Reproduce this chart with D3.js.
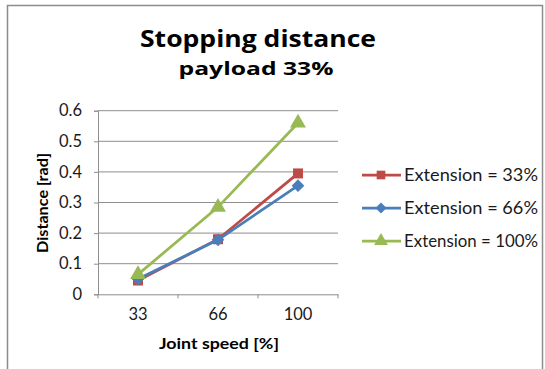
<!DOCTYPE html>
<html>
<head>
<meta charset="utf-8">
<script src="https://cdn.jsdelivr.net/npm/d3@7"></script>
<style>
  html, body { margin: 0; padding: 0; background: #fff; }
  svg { display: block; }
</style>
</head>
<body>
<svg id="chart" width="545" height="369"></svg>
<script>
// Stopping distance vs joint speed, payload 33%
const categories = ["33", "66", "100"];
const seriesNames = ["Extension = 33%", "Extension = 66%", "Extension = 100%"];
const ext33 = [0.045, 0.18, 0.395];
const ext66 = [0.05, 0.178, 0.355];
const ext100 = [0.065, 0.285, 0.56];
const yTicks = [0, 0.1, 0.2, 0.3, 0.4, 0.5, 0.6];

// diamond drawn as a square turned 45 degrees
const squareDiamond = {
  draw(context, size) {
    const r = Math.sqrt(size / 2);
    context.moveTo(0, -r);
    context.lineTo(r, 0);
    context.lineTo(0, r);
    context.lineTo(-r, 0);
    context.closePath();
  }
};

const series = [
  { name: seriesNames[0], values: ext33, color: "#BE4B48", symbol: d3.symbolSquare, size: 100 },
  { name: seriesNames[1], values: ext66, color: "#4A7EBB", symbol: squareDiamond, size: 80 },
  { name: seriesNames[2], values: ext100, color: "#98B954", symbol: d3.symbolTriangle, size: 110 }
];

const font = "Lato, 'Open Sans', sans-serif";
const titleFont = "'Open Sans', Lato, sans-serif";
const svg = d3.select("#chart");

// outer frame
svg.append("rect")
  .attr("x", 7.5).attr("y", 5.5).attr("width", 535).attr("height", 370)
  .attr("fill", "#fff").attr("stroke", "#8c8c8c").attr("stroke-width", 1.5);

// titles
svg.append("text")
  .attr("x", 258).attr("y", 47)
  .attr("text-anchor", "middle")
  .attr("font-family", titleFont).attr("font-weight", "bold")
  .attr("font-size", 22.5).attr("fill", "#000")
  .attr("textLength", 236).attr("lengthAdjust", "spacingAndGlyphs")
  .text("Stopping distance");
svg.append("text")
  .attr("x", 256).attr("y", 75)
  .attr("text-anchor", "middle")
  .attr("font-family", titleFont).attr("font-weight", "bold")
  .attr("font-size", 18.5).attr("fill", "#000")
  .attr("textLength", 155).attr("lengthAdjust", "spacingAndGlyphs")
  .text("payload 33%");

// scales
const x = d3.scaleBand().domain(categories).range([98, 338]).padding(0);
const y = d3.scaleLinear().domain([0, 0.6]).range([294.3, 110.7]);
const cx = c => x(c) + x.bandwidth() / 2;

// horizontal gridlines
svg.append("g")
  .selectAll("line")
  .data(yTicks.filter(t => t > 0))
  .join("line")
  .attr("x1", 98).attr("x2", 338)
  .attr("y1", d => y(d)).attr("y2", d => y(d))
  .attr("stroke", "#8e8e8e").attr("stroke-width", 1);

// y axis
const yAxis = svg.append("g")
  .attr("transform", "translate(98,0)")
  .call(d3.axisLeft(y).tickValues(yTicks).tickSize(4).tickPadding(12)
    .tickFormat(d => d === 0 ? "0" : d3.format(".1f")(d)));
yAxis.select(".domain").attr("stroke", "#8e8e8e").attr("stroke-width", 1);
yAxis.selectAll(".tick line").attr("stroke", "#8e8e8e");
yAxis.selectAll("text")
  .attr("font-family", font).attr("font-size", 16.5).attr("fill", "#1a1a1a");

// x axis
const xAxis = svg.append("g")
  .attr("transform", `translate(0,${y(0)})`)
  .call(d3.axisBottom(x).tickSize(0).tickPadding(14));
xAxis.select(".domain").attr("stroke", "#8e8e8e").attr("stroke-width", 1);
xAxis.selectAll("text")
  .attr("font-family", font).attr("font-size", 16.5).attr("fill", "#1a1a1a");
// boundary tick marks between categories
svg.append("g")
  .selectAll("line")
  .data(categories.map(c => x(c)).concat([x.range()[1]]))
  .join("line")
  .attr("x1", d => d).attr("x2", d => d)
  .attr("y1", y(0)).attr("y2", y(0) + 4)
  .attr("stroke", "#8e8e8e");

// axis titles
svg.append("text")
  .attr("x", 219).attr("y", 349)
  .attr("text-anchor", "middle")
  .attr("font-family", font).attr("font-weight", "bold")
  .attr("font-size", 16).attr("fill", "#000")
  .attr("textLength", 120).attr("lengthAdjust", "spacingAndGlyphs")
  .text("Joint speed [%]");
svg.append("text")
  .attr("transform", "translate(48,203) rotate(-90)")
  .attr("text-anchor", "middle")
  .attr("font-family", font).attr("font-weight", "bold")
  .attr("font-size", 16).attr("fill", "#000")
  .attr("textLength", 100).attr("lengthAdjust", "spacingAndGlyphs")
  .text("Distance [rad]");

// series lines and markers
const line = d3.line().x((d, i) => cx(categories[i])).y(d => y(d));
series.forEach(s => {
  const g = svg.append("g");
  g.append("path")
    .attr("d", line(s.values))
    .attr("fill", "none").attr("stroke", s.color).attr("stroke-width", 2.75);
  g.selectAll("path.mk")
    .data(s.values)
    .join("path")
    .attr("class", "mk")
    .attr("transform", (d, i) => `translate(${cx(categories[i])},${y(d)})`)
    .attr("d", d3.symbol().type(s.symbol).size(s.size))
    .attr("fill", s.color);
});

// legend
const legend = svg.append("g");
series.forEach((s, i) => {
  const ly = 175 + i * 33;
  legend.append("line")
    .attr("x1", 362).attr("x2", 401).attr("y1", ly).attr("y2", ly)
    .attr("stroke", s.color).attr("stroke-width", 2.75);
  legend.append("path")
    .attr("transform", `translate(381,${ly})`)
    .attr("d", d3.symbol().type(s.symbol).size(s.size * 0.75))
    .attr("fill", s.color);
  legend.append("text")
    .attr("x", 404).attr("y", ly + 6)
    .attr("font-family", font).attr("font-size", 16.5).attr("fill", "#1a1a1a")
    .attr("textLength", 134).attr("lengthAdjust", "spacingAndGlyphs")
    .text(s.name);
});
</script>
</body>
</html>
